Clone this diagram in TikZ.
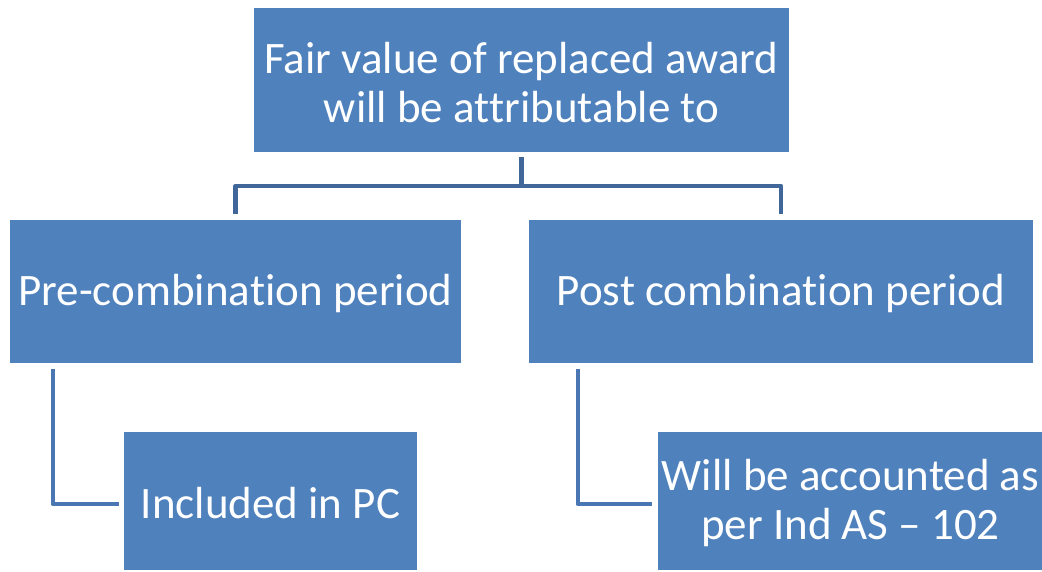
\documentclass[tikz,border=0pt]{standalone}
\usepackage{fontspec}
\setmainfont{Carlito}[RawFeature={-liga;-clig;-calt;-dlig;-hlig}]
\definecolor{boxblue}{HTML}{4F81BD}
\definecolor{topline}{HTML}{41679A}
\definecolor{childline}{HTML}{4A77B4}
\tikzset{
  blk/.style={rectangle, fill=boxblue, draw=none, inner sep=0pt, align=center,
    text=white, font=\fontsize{45}{49}\selectfont},
  conn/.style={draw=topline, line width=4.5pt, line join=round},
  childconn/.style={draw=childline, line width=4.5pt, line join=round}
}
\begin{document}
\begin{tikzpicture}[x=1pt,y=1pt]
\useasboundingbox (0,0) rectangle (1042,-571);
\node[blk, minimum width=535pt, minimum height=144pt] (top) at (521.5,-80) {\rule{0pt}{36pt}Fair value of replaced award\\will be at\kern0pt tribu\kern0pt table to};
\node[blk, minimum width=451pt, minimum height=143pt] (left) at (235.5,-291.5) {\rule{0pt}{36pt}Pre-combina\kern0pt tion period};
\node[blk, minimum width=504pt, minimum height=143pt] (right) at (781,-291.5) {\rule{0pt}{36pt}Post combina\kern0pt tion period};
\node[blk, minimum width=293pt, minimum height=138pt] (lc) at (270.5,-501) {\rule{0pt}{36pt}Included in PC};
\node[blk, minimum width=385pt, minimum height=138pt] (rc) at (850.5,-501) {\rule{0pt}{36pt}Will be accounted as\\per Ind AS -- 102};
\coordinate (hub) at (521.5,-186);
\draw[conn] ([yshift=-5pt]top.south) -- (hub);
\draw[conn] ([yshift=6pt]left.north) |- (hub) -| ([yshift=6pt]right.north);
\draw[childconn] ([xshift=43pt,yshift=-6pt]left.south west) |- ([xshift=-5pt,yshift=-3pt]lc.west);
\draw[childconn] ([xshift=49pt,yshift=-6pt]right.south west) |- ([xshift=-6pt,yshift=-3pt]rc.west);
\end{tikzpicture}
\end{document}
